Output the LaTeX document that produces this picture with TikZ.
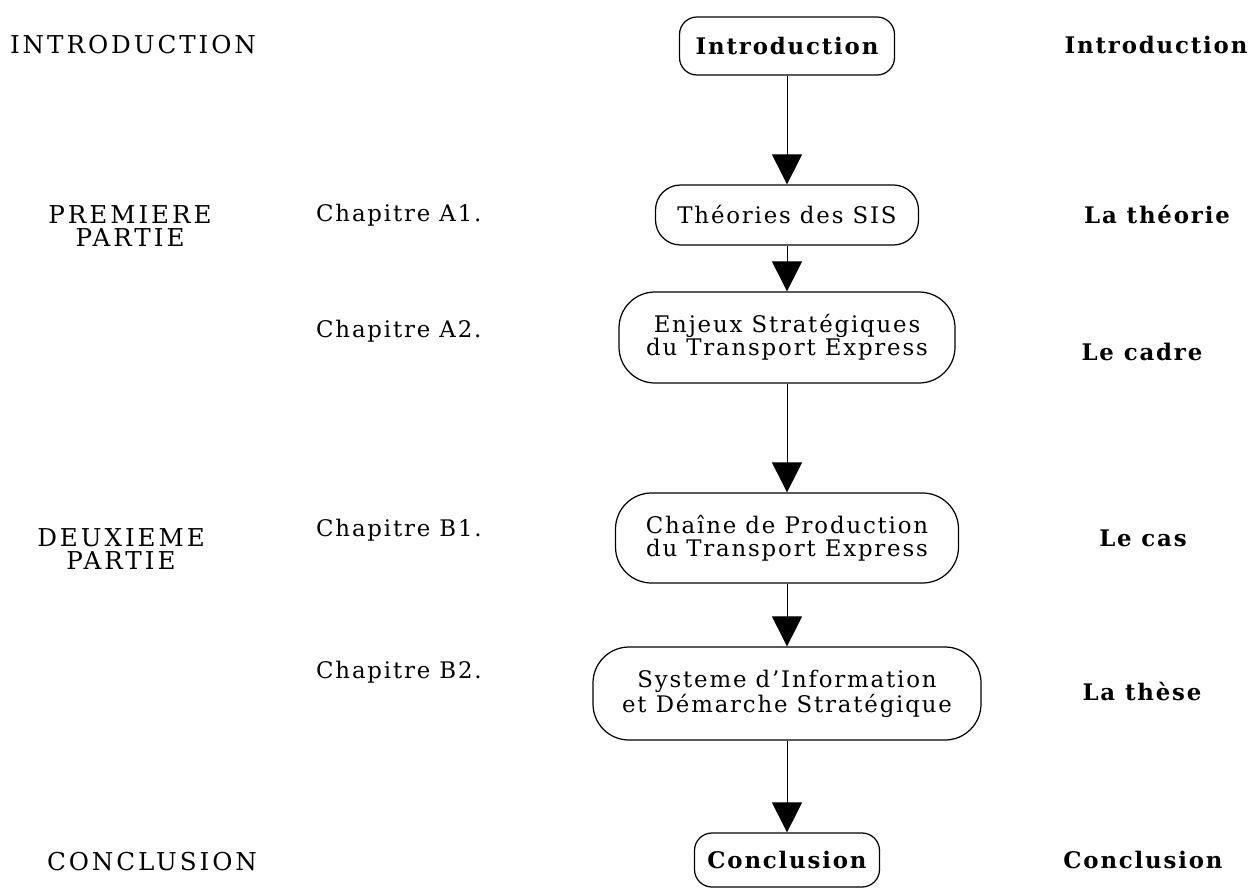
\documentclass[tikz,border=0pt]{standalone}
\usepackage{fontspec}
\setmainfont{DejaVu Serif}[LetterSpace=8]
\newfontfamily\capsfont[LetterSpace=12]{DejaVu Serif}
\usepackage{tikz}
\usetikzlibrary{arrows.meta,positioning}
\tikzstyle{arrow} = [draw, line width=0.5pt, -{Triangle[width=0.6cm,length=0.6cm]}]
\tikzstyle{box} = [rectangle, rounded corners=0.72cm, draw, line width=0.7pt,
  align=center, inner sep=0pt, font={\fontsize{13}{13}\selectfont}]
\tikzstyle{endbox} = [rectangle, rounded corners=0.35cm, draw, line width=0.7pt,
  inner sep=0pt, font={\fontsize{13}{13}\selectfont\bfseries}]
\tikzstyle{part} = [align=center, font={\capsfont\fontsize{14}{13}\selectfont}]
\tikzstyle{chap} = [anchor=west, font={\fontsize{13}{13}\selectfont}]
\tikzstyle{role} = [font={\fontsize{13}{13}\selectfont\bfseries}]

\begin{document}
\begin{tikzpicture}
    \useasboundingbox (0,0) rectangle (24.98,-17.78);
    % central chain
    \node [endbox, minimum width=4.3cm, minimum height=1.16cm] at (15.74,-0.92) (intro)
      {Introduction};
    \node [box, rounded corners=0.5cm, minimum width=5.26cm, minimum height=1.2cm]
      at (15.74,-4.3) (theo) {Théories des SIS};
    \node [box, minimum width=6.72cm, minimum height=1.82cm] at (15.74,-6.75) (enjeux)
      {Enjeux Stratégiques\\du Transport Express};
    \node [box, minimum width=6.86cm, minimum height=1.8cm] at (15.74,-10.76) (chaine)
      {Chaîne de Production\\du Transport Express};
    \node [box, minimum width=7.76cm, minimum height=1.86cm] at (15.74,-13.87) (systeme)
      {Systeme d'Information\\et Démarche Stratégique};
    \node [endbox, minimum width=3.7cm, minimum height=1.08cm] at (15.74,-17.2) (concl)
      {Conclusion};
    % parts
    \node [part] at (2.66,-0.9) (introPart) {INTRODUCTION};
    \node [part] at (2.6,-4.52) (partA) {PREMIERE\\PARTIE};
    \node [part] at (2.42,-10.98) (partB) {DEUXIEME\\PARTIE};
    \node [part] at (3.04,-17.24) (conclPart) {CONCLUSION};
    % chapters
    \node [chap] at (6.2,-4.3) (chapA1) {Chapitre A1.};
    \node [chap] at (6.2,-6.62) (chapA2) {Chapitre A2.};
    \node [chap] at (6.2,-10.6) (chapB1) {Chapitre B1.};
    \node [chap] at (6.2,-13.45) (chapB2) {Chapitre B2.};
    % roles
    \node [role] at (23.12,-0.9) (introRole) {Introduction};
    \node [role] at (23.14,-4.3) (theoRole) {La théorie};
    \node [role] at (22.84,-7.04) (cadreRole) {Le cadre};
    \node [role] at (22.86,-10.76) (casRole) {Le cas};
    \node [role] at (22.84,-13.84) (theseRole) {La thèse};
    \node [role] at (22.86,-17.2) (conclRole) {Conclusion};
    \path [arrow] (intro) -- (theo);
    \path [arrow] (theo) -- (enjeux);
    \path [arrow] (enjeux) -- (chaine);
    \path [arrow] (chaine) -- (systeme);
    \path [arrow] (systeme) -- (concl);
  \end{tikzpicture}
\end{document}
